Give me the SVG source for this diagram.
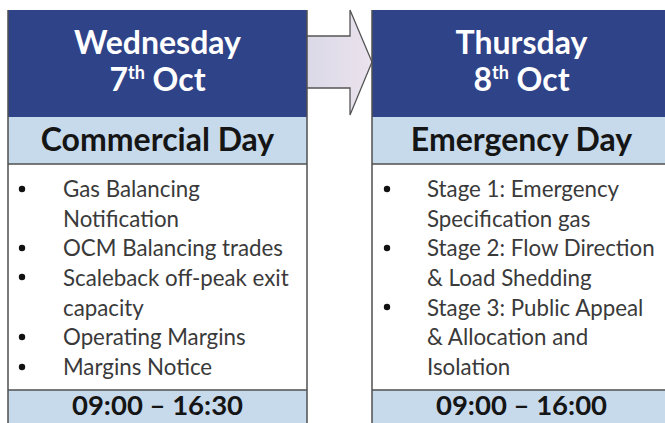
<svg xmlns="http://www.w3.org/2000/svg" width="665" height="423" viewBox="0 0 665 423">
  <defs>
    <linearGradient id="arrowFill" x1="0" y1="0" x2="1" y2="0">
      <stop offset="0" stop-color="#d9d8e6"/>
      <stop offset="1" stop-color="#ebe3ee"/>
    </linearGradient>
    <style>
      .hdr { fill: #2f4389; }
      .band { fill: #c7daec; }
      .body { fill: #ffffff; }
      .line { stroke: #505050; stroke-width: 1.5; fill: none; }
      .title { font-family: Lato, "Liberation Sans", sans-serif; font-weight: bold; font-size: 32px; fill: #ffffff; text-anchor: middle; }
      .sup { font-size: 18px; }
      .sub { font-family: Lato, "Liberation Sans", sans-serif; font-weight: bold; font-size: 32px; fill: #151515; text-anchor: middle; }
      .item { font-family: Lato, "Liberation Sans", sans-serif; font-size: 22.3px; fill: #3a3a3a; }
      .time { font-family: Lato, "Liberation Sans", sans-serif; font-weight: bold; font-size: 27.5px; fill: #151515; text-anchor: middle; }
      .bullet { fill: #111111; }
    </style>
  </defs>
  <rect width="665" height="423" fill="#ffffff"/>

  <g id="connectors">
    <polygon points="300,36 350,36 350,10 372,62 350,115 350,88 300,88" fill="url(#arrowFill)" stroke="#555555" stroke-width="1.3" stroke-linejoin="miter"/>
  </g>

  <g id="wednesday">
    <rect class="hdr" x="8" y="10" width="299" height="107"/>
    <rect class="band" x="8" y="117" width="299" height="47"/>
    <rect class="body" x="8" y="164" width="299" height="226"/>
    <rect class="band" x="8" y="390" width="299" height="40"/>
    <path class="line" d="M8,10 V430 M307,10 V430 M8,164 H307 M8,390 H307"/>
    <text class="title" x="157.5" y="54">Wednesday</text>
    <text class="title" x="157.5" y="91">7<tspan class="sup" dy="-12">th</tspan><tspan dy="12"> Oct</tspan></text>
    <text class="sub" x="157.5" y="151">Commercial Day</text>
    <circle class="bullet" cx="22" cy="189" r="3.2"/>
    <circle class="bullet" cx="22" cy="248" r="3.2"/>
    <circle class="bullet" cx="22" cy="277" r="3.2"/>
    <circle class="bullet" cx="22" cy="337" r="3.2"/>
    <circle class="bullet" cx="22" cy="367" r="3.2"/>
    <text class="item" x="63" y="197">Gas Balancing</text>
    <text class="item" x="63" y="226.7">Notification</text>
    <text class="item" x="63" y="256.3">OCM Balancing trades</text>
    <text class="item" x="63" y="286">Scaleback off-peak exit</text>
    <text class="item" x="63" y="315.7">capacity</text>
    <text class="item" x="63" y="345.3">Operating Margins</text>
    <text class="item" x="63" y="375">Margins Notice</text>
    <text class="time" x="157.5" y="415">09:00 – 16:30</text>
  </g>

  <g id="thursday">
    <rect class="hdr" x="372" y="10" width="299" height="107"/>
    <rect class="band" x="372" y="117" width="299" height="47"/>
    <rect class="body" x="372" y="164" width="299" height="226"/>
    <rect class="band" x="372" y="390" width="299" height="40"/>
    <path class="line" d="M372,10 V430 M372,164 H671 M372,390 H671"/>
    <text class="title" x="521.5" y="54">Thursday</text>
    <text class="title" x="521.5" y="91">8<tspan class="sup" dy="-12">th</tspan><tspan dy="12"> Oct</tspan></text>
    <text class="sub" x="521.5" y="151">Emergency Day</text>
    <circle class="bullet" cx="387" cy="189" r="3.2"/>
    <circle class="bullet" cx="387" cy="248" r="3.2"/>
    <circle class="bullet" cx="387" cy="307" r="3.2"/>
    <text class="item" x="427" y="197">Stage 1: Emergency</text>
    <text class="item" x="427" y="226.7">Specification gas</text>
    <text class="item" x="427" y="256.3">Stage 2: Flow Direction</text>
    <text class="item" x="427" y="286">&amp; Load Shedding</text>
    <text class="item" x="427" y="315.7">Stage 3: Public Appeal</text>
    <text class="item" x="427" y="345.3">&amp; Allocation and</text>
    <text class="item" x="427" y="375">Isolation</text>
    <text class="time" x="521.5" y="415">09:00 – 16:00</text>
  </g>
</svg>
